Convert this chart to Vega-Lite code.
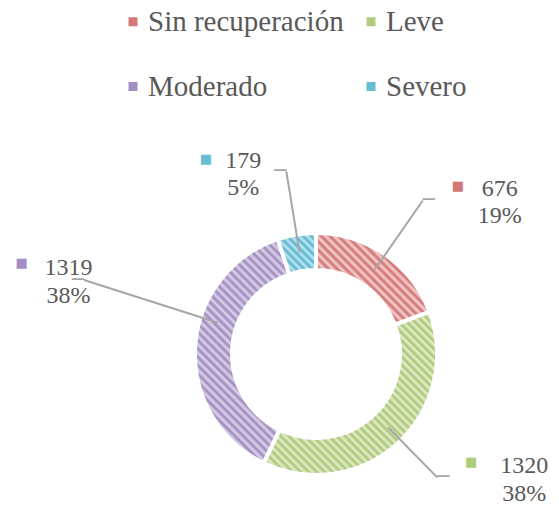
{
  "$schema": "https://vega.github.io/schema/vega-lite/v6.json",
  "width": 486,
  "height": 304,
  "autosize": "none",
  "padding": {"left": 73, "top": 202, "right": 0, "bottom": 0},
  "background": "white",
  "data": {"values": [
    {"categoria": "Sin recuperación", "pacientes": 676, "porcentaje": "19%", "orden": 1},
    {"categoria": "Leve", "pacientes": 1320, "porcentaje": "38%", "orden": 2},
    {"categoria": "Moderado", "pacientes": 1319, "porcentaje": "38%", "orden": 3},
    {"categoria": "Severo", "pacientes": 179, "porcentaje": "5%", "orden": 4}
  ]},
  "transform": [
    {"stack": "pacientes", "groupby": [], "sort": [{"field": "orden"}], "as": ["v0", "v1"]}
  ],
  "layer": [
    {
      "transform": [{"filter": {"field": "categoria", "equal": "Sin recuperación"}}],
      "mark": {"type": "arc", "outerRadius": 121, "innerRadius": 84, "stroke": "white", "strokeWidth": 4,
        "fill": {"gradient": "linear", "x1": 0, "y1": 1, "x2": 1.0932, "y2": 0.115, "stops": [
          {"offset":0,"color":"#cf6e6e"},{"offset":0.0208,"color":"#f6d2d2"},{"offset":0.0417,"color":"#cf6e6e"},{"offset":0.0625,"color":"#f6d2d2"},{"offset":0.0833,"color":"#cf6e6e"},{"offset":0.1042,"color":"#f6d2d2"},{"offset":0.125,"color":"#cf6e6e"},{"offset":0.1458,"color":"#f6d2d2"},{"offset":0.1667,"color":"#cf6e6e"},{"offset":0.1875,"color":"#f6d2d2"},{"offset":0.2083,"color":"#cf6e6e"},{"offset":0.2292,"color":"#f6d2d2"},{"offset":0.25,"color":"#cf6e6e"},{"offset":0.2708,"color":"#f6d2d2"},{"offset":0.2917,"color":"#cf6e6e"},{"offset":0.3125,"color":"#f6d2d2"},{"offset":0.3333,"color":"#cf6e6e"},{"offset":0.3542,"color":"#f6d2d2"},{"offset":0.375,"color":"#cf6e6e"},{"offset":0.3958,"color":"#f6d2d2"},{"offset":0.4167,"color":"#cf6e6e"},{"offset":0.4375,"color":"#f6d2d2"},{"offset":0.4583,"color":"#cf6e6e"},{"offset":0.4792,"color":"#f6d2d2"},{"offset":0.5,"color":"#cf6e6e"},{"offset":0.5208,"color":"#f6d2d2"},{"offset":0.5417,"color":"#cf6e6e"},{"offset":0.5625,"color":"#f6d2d2"},{"offset":0.5833,"color":"#cf6e6e"},{"offset":0.6042,"color":"#f6d2d2"},{"offset":0.625,"color":"#cf6e6e"},{"offset":0.6458,"color":"#f6d2d2"},{"offset":0.6667,"color":"#cf6e6e"},{"offset":0.6875,"color":"#f6d2d2"},{"offset":0.7083,"color":"#cf6e6e"},{"offset":0.7292,"color":"#f6d2d2"},{"offset":0.75,"color":"#cf6e6e"},{"offset":0.7708,"color":"#f6d2d2"},{"offset":0.7917,"color":"#cf6e6e"},{"offset":0.8125,"color":"#f6d2d2"},{"offset":0.8333,"color":"#cf6e6e"},{"offset":0.8542,"color":"#f6d2d2"},{"offset":0.875,"color":"#cf6e6e"},{"offset":0.8958,"color":"#f6d2d2"},{"offset":0.9167,"color":"#cf6e6e"},{"offset":0.9375,"color":"#f6d2d2"},{"offset":0.9583,"color":"#cf6e6e"},{"offset":0.9792,"color":"#f6d2d2"},{"offset":1,"color":"#cf6e6e"}
        ]}},
      "encoding": {
        "theta": {"field": "v0", "type": "quantitative", "scale": {"domain": [0, 3494], "nice": false}},
        "theta2": {"field": "v1"}
      }
    },
    {
      "transform": [{"filter": {"field": "categoria", "equal": "Leve"}}],
      "mark": {"type": "arc", "outerRadius": 121, "innerRadius": 84, "stroke": "white", "strokeWidth": 4,
        "fill": {"gradient": "linear", "x1": 0, "y1": 1, "x2": 1.0296, "y2": 0.0315, "stops": [
          {"offset":0,"color":"#a9c56f"},{"offset":0.0119,"color":"#e4eed2"},{"offset":0.0238,"color":"#a9c56f"},{"offset":0.0357,"color":"#e4eed2"},{"offset":0.0476,"color":"#a9c56f"},{"offset":0.0595,"color":"#e4eed2"},{"offset":0.0714,"color":"#a9c56f"},{"offset":0.0833,"color":"#e4eed2"},{"offset":0.0952,"color":"#a9c56f"},{"offset":0.1071,"color":"#e4eed2"},{"offset":0.119,"color":"#a9c56f"},{"offset":0.131,"color":"#e4eed2"},{"offset":0.1429,"color":"#a9c56f"},{"offset":0.1548,"color":"#e4eed2"},{"offset":0.1667,"color":"#a9c56f"},{"offset":0.1786,"color":"#e4eed2"},{"offset":0.1905,"color":"#a9c56f"},{"offset":0.2024,"color":"#e4eed2"},{"offset":0.2143,"color":"#a9c56f"},{"offset":0.2262,"color":"#e4eed2"},{"offset":0.2381,"color":"#a9c56f"},{"offset":0.25,"color":"#e4eed2"},{"offset":0.2619,"color":"#a9c56f"},{"offset":0.2738,"color":"#e4eed2"},{"offset":0.2857,"color":"#a9c56f"},{"offset":0.2976,"color":"#e4eed2"},{"offset":0.3095,"color":"#a9c56f"},{"offset":0.3214,"color":"#e4eed2"},{"offset":0.3333,"color":"#a9c56f"},{"offset":0.3452,"color":"#e4eed2"},{"offset":0.3571,"color":"#a9c56f"},{"offset":0.369,"color":"#e4eed2"},{"offset":0.381,"color":"#a9c56f"},{"offset":0.3929,"color":"#e4eed2"},{"offset":0.4048,"color":"#a9c56f"},{"offset":0.4167,"color":"#e4eed2"},{"offset":0.4286,"color":"#a9c56f"},{"offset":0.4405,"color":"#e4eed2"},{"offset":0.4524,"color":"#a9c56f"},{"offset":0.4643,"color":"#e4eed2"},{"offset":0.4762,"color":"#a9c56f"},{"offset":0.4881,"color":"#e4eed2"},{"offset":0.5,"color":"#a9c56f"},{"offset":0.5119,"color":"#e4eed2"},{"offset":0.5238,"color":"#a9c56f"},{"offset":0.5357,"color":"#e4eed2"},{"offset":0.5476,"color":"#a9c56f"},{"offset":0.5595,"color":"#e4eed2"},{"offset":0.5714,"color":"#a9c56f"},{"offset":0.5833,"color":"#e4eed2"},{"offset":0.5952,"color":"#a9c56f"},{"offset":0.6071,"color":"#e4eed2"},{"offset":0.619,"color":"#a9c56f"},{"offset":0.631,"color":"#e4eed2"},{"offset":0.6429,"color":"#a9c56f"},{"offset":0.6548,"color":"#e4eed2"},{"offset":0.6667,"color":"#a9c56f"},{"offset":0.6786,"color":"#e4eed2"},{"offset":0.6905,"color":"#a9c56f"},{"offset":0.7024,"color":"#e4eed2"},{"offset":0.7143,"color":"#a9c56f"},{"offset":0.7262,"color":"#e4eed2"},{"offset":0.7381,"color":"#a9c56f"},{"offset":0.75,"color":"#e4eed2"},{"offset":0.7619,"color":"#a9c56f"},{"offset":0.7738,"color":"#e4eed2"},{"offset":0.7857,"color":"#a9c56f"},{"offset":0.7976,"color":"#e4eed2"},{"offset":0.8095,"color":"#a9c56f"},{"offset":0.8214,"color":"#e4eed2"},{"offset":0.8333,"color":"#a9c56f"},{"offset":0.8452,"color":"#e4eed2"},{"offset":0.8571,"color":"#a9c56f"},{"offset":0.869,"color":"#e4eed2"},{"offset":0.881,"color":"#a9c56f"},{"offset":0.8929,"color":"#e4eed2"},{"offset":0.9048,"color":"#a9c56f"},{"offset":0.9167,"color":"#e4eed2"},{"offset":0.9286,"color":"#a9c56f"},{"offset":0.9405,"color":"#e4eed2"},{"offset":0.9524,"color":"#a9c56f"},{"offset":0.9643,"color":"#e4eed2"},{"offset":0.9762,"color":"#a9c56f"},{"offset":0.9881,"color":"#e4eed2"},{"offset":1,"color":"#a9c56f"}
        ]}},
      "encoding": {
        "theta": {"field": "v0", "type": "quantitative", "scale": {"domain": [0, 3494], "nice": false}},
        "theta2": {"field": "v1"}
      }
    },
    {
      "transform": [{"filter": {"field": "categoria", "equal": "Moderado"}}],
      "mark": {"type": "arc", "outerRadius": 121, "innerRadius": 84, "stroke": "white", "strokeWidth": 4,
        "fill": {"gradient": "linear", "x1": 0, "y1": 1, "x2": 0.5089, "y2": -0.207, "stops": [
          {"offset":0,"color":"#9d88be"},{"offset":0.0132,"color":"#ddd5ea"},{"offset":0.0263,"color":"#9d88be"},{"offset":0.0395,"color":"#ddd5ea"},{"offset":0.0526,"color":"#9d88be"},{"offset":0.0658,"color":"#ddd5ea"},{"offset":0.0789,"color":"#9d88be"},{"offset":0.0921,"color":"#ddd5ea"},{"offset":0.1053,"color":"#9d88be"},{"offset":0.1184,"color":"#ddd5ea"},{"offset":0.1316,"color":"#9d88be"},{"offset":0.1447,"color":"#ddd5ea"},{"offset":0.1579,"color":"#9d88be"},{"offset":0.1711,"color":"#ddd5ea"},{"offset":0.1842,"color":"#9d88be"},{"offset":0.1974,"color":"#ddd5ea"},{"offset":0.2105,"color":"#9d88be"},{"offset":0.2237,"color":"#ddd5ea"},{"offset":0.2368,"color":"#9d88be"},{"offset":0.25,"color":"#ddd5ea"},{"offset":0.2632,"color":"#9d88be"},{"offset":0.2763,"color":"#ddd5ea"},{"offset":0.2895,"color":"#9d88be"},{"offset":0.3026,"color":"#ddd5ea"},{"offset":0.3158,"color":"#9d88be"},{"offset":0.3289,"color":"#ddd5ea"},{"offset":0.3421,"color":"#9d88be"},{"offset":0.3553,"color":"#ddd5ea"},{"offset":0.3684,"color":"#9d88be"},{"offset":0.3816,"color":"#ddd5ea"},{"offset":0.3947,"color":"#9d88be"},{"offset":0.4079,"color":"#ddd5ea"},{"offset":0.4211,"color":"#9d88be"},{"offset":0.4342,"color":"#ddd5ea"},{"offset":0.4474,"color":"#9d88be"},{"offset":0.4605,"color":"#ddd5ea"},{"offset":0.4737,"color":"#9d88be"},{"offset":0.4868,"color":"#ddd5ea"},{"offset":0.5,"color":"#9d88be"},{"offset":0.5132,"color":"#ddd5ea"},{"offset":0.5263,"color":"#9d88be"},{"offset":0.5395,"color":"#ddd5ea"},{"offset":0.5526,"color":"#9d88be"},{"offset":0.5658,"color":"#ddd5ea"},{"offset":0.5789,"color":"#9d88be"},{"offset":0.5921,"color":"#ddd5ea"},{"offset":0.6053,"color":"#9d88be"},{"offset":0.6184,"color":"#ddd5ea"},{"offset":0.6316,"color":"#9d88be"},{"offset":0.6447,"color":"#ddd5ea"},{"offset":0.6579,"color":"#9d88be"},{"offset":0.6711,"color":"#ddd5ea"},{"offset":0.6842,"color":"#9d88be"},{"offset":0.6974,"color":"#ddd5ea"},{"offset":0.7105,"color":"#9d88be"},{"offset":0.7237,"color":"#ddd5ea"},{"offset":0.7368,"color":"#9d88be"},{"offset":0.75,"color":"#ddd5ea"},{"offset":0.7632,"color":"#9d88be"},{"offset":0.7763,"color":"#ddd5ea"},{"offset":0.7895,"color":"#9d88be"},{"offset":0.8026,"color":"#ddd5ea"},{"offset":0.8158,"color":"#9d88be"},{"offset":0.8289,"color":"#ddd5ea"},{"offset":0.8421,"color":"#9d88be"},{"offset":0.8553,"color":"#ddd5ea"},{"offset":0.8684,"color":"#9d88be"},{"offset":0.8816,"color":"#ddd5ea"},{"offset":0.8947,"color":"#9d88be"},{"offset":0.9079,"color":"#ddd5ea"},{"offset":0.9211,"color":"#9d88be"},{"offset":0.9342,"color":"#ddd5ea"},{"offset":0.9474,"color":"#9d88be"},{"offset":0.9605,"color":"#ddd5ea"},{"offset":0.9737,"color":"#9d88be"},{"offset":0.9868,"color":"#ddd5ea"},{"offset":1,"color":"#9d88be"}
        ]}},
      "encoding": {
        "theta": {"field": "v0", "type": "quantitative", "scale": {"domain": [0, 3494], "nice": false}},
        "theta2": {"field": "v1"}
      }
    },
    {
      "transform": [{"filter": {"field": "categoria", "equal": "Severo"}}],
      "mark": {"type": "arc", "outerRadius": 121, "innerRadius": 84, "stroke": "white", "strokeWidth": 4,
        "fill": {"gradient": "linear", "x1": 0, "y1": 1, "x2": 0.961, "y2": -0.036, "stops": [
          {"offset":0,"color":"#56b4ce"},{"offset":0.05,"color":"#c2e7f1"},{"offset":0.1,"color":"#56b4ce"},{"offset":0.15,"color":"#c2e7f1"},{"offset":0.2,"color":"#56b4ce"},{"offset":0.25,"color":"#c2e7f1"},{"offset":0.3,"color":"#56b4ce"},{"offset":0.35,"color":"#c2e7f1"},{"offset":0.4,"color":"#56b4ce"},{"offset":0.45,"color":"#c2e7f1"},{"offset":0.5,"color":"#56b4ce"},{"offset":0.55,"color":"#c2e7f1"},{"offset":0.6,"color":"#56b4ce"},{"offset":0.65,"color":"#c2e7f1"},{"offset":0.7,"color":"#56b4ce"},{"offset":0.75,"color":"#c2e7f1"},{"offset":0.8,"color":"#56b4ce"},{"offset":0.85,"color":"#c2e7f1"},{"offset":0.9,"color":"#56b4ce"},{"offset":0.95,"color":"#c2e7f1"},{"offset":1,"color":"#56b4ce"}
        ]}},
      "encoding": {
        "theta": {"field": "v0", "type": "quantitative", "scale": {"domain": [0, 3494], "nice": false}},
        "theta2": {"field": "v1"}
      }
    },
    {
      "transform": [
        {"filter": {"field": "categoria", "equal": "Sin recuperación"}},
        {"fold": ["v0", "v1"], "as": ["borde", "angulo"]},
        {"aggregate": [{"op": "mean", "field": "angulo", "as": "mid"}], "groupby": ["categoria", "pacientes", "porcentaje"]}
      ],
      "layer": [
        {"mark": {"type": "arc", "innerRadius": 103, "outerRadius": 187, "filled": false, "color": "#a6a6a6", "strokeWidth": 2},
         "encoding": {"theta": {"field": "mid", "type": "quantitative", "scale": {"domain": [0, 3494], "nice": false}}, "theta2": {"field": "mid"}}},
        {"mark": {"type": "text", "text": "─", "font": "DejaVu Sans Mono", "fontSize": 20, "color": "#a6a6a6", "align": "left", "baseline": "middle", "radius": 187},
         "encoding": {"theta": {"field": "mid", "type": "quantitative", "stack": false, "scale": {"domain": [0, 3494], "nice": false}}}},
        {"mark": {"type": "text", "text": "■", "font": "DejaVu Sans", "fontSize": 13, "color": "#d57676", "align": "center", "baseline": "middle", "radius": 187, "dx": 35, "dy": -14.5},
         "encoding": {"theta": {"field": "mid", "type": "quantitative", "stack": false, "scale": {"domain": [0, 3494], "nice": false}}}},
        {"mark": {"type": "text", "font": "Liberation Serif", "fontSize": 24, "color": "#595959", "align": "center", "baseline": "alphabetic", "radius": 187, "dx": 77, "dy": -4.5},
         "encoding": {"theta": {"field": "mid", "type": "quantitative", "stack": false, "scale": {"domain": [0, 3494], "nice": false}}, "text": {"field": "pacientes", "type": "nominal"}}},
        {"mark": {"type": "text", "font": "Liberation Serif", "fontSize": 24, "color": "#595959", "align": "center", "baseline": "alphabetic", "radius": 187, "dx": 77, "dy": 23},
         "encoding": {"theta": {"field": "mid", "type": "quantitative", "stack": false, "scale": {"domain": [0, 3494], "nice": false}}, "text": {"field": "porcentaje", "type": "nominal"}}}
      ]
    },
    {
      "transform": [
        {"filter": {"field": "categoria", "equal": "Leve"}},
        {"fold": ["v0", "v1"], "as": ["borde", "angulo"]},
        {"aggregate": [{"op": "mean", "field": "angulo", "as": "mid"}], "groupby": ["categoria", "pacientes", "porcentaje"]}
      ],
      "layer": [
        {"mark": {"type": "arc", "innerRadius": 103, "outerRadius": 173, "filled": false, "color": "#a6a6a6", "strokeWidth": 2, "thetaOffset": -0.0375, "theta2Offset": -0.0375},
         "encoding": {"theta": {"field": "mid", "type": "quantitative", "scale": {"domain": [0, 3494], "nice": false}}, "theta2": {"field": "mid"}}},
        {"mark": {"type": "text", "text": "─", "font": "DejaVu Sans Mono", "fontSize": 20, "color": "#a6a6a6", "align": "left", "baseline": "middle", "radius": 173, "thetaOffset": -0.0375},
         "encoding": {"theta": {"field": "mid", "type": "quantitative", "stack": false, "scale": {"domain": [0, 3494], "nice": false}}}},
        {"mark": {"type": "text", "text": "■", "font": "DejaVu Sans", "fontSize": 13, "color": "#afcb7c", "align": "center", "baseline": "middle", "radius": 173, "thetaOffset": -0.0375, "dx": 34, "dy": -15.4},
         "encoding": {"theta": {"field": "mid", "type": "quantitative", "stack": false, "scale": {"domain": [0, 3494], "nice": false}}}},
        {"mark": {"type": "text", "font": "Liberation Serif", "fontSize": 24, "color": "#595959", "align": "center", "baseline": "alphabetic", "radius": 173, "thetaOffset": -0.0375, "dx": 87, "dy": -4.4},
         "encoding": {"theta": {"field": "mid", "type": "quantitative", "stack": false, "scale": {"domain": [0, 3494], "nice": false}}, "text": {"field": "pacientes", "type": "nominal"}}},
        {"mark": {"type": "text", "font": "Liberation Serif", "fontSize": 24, "color": "#595959", "align": "center", "baseline": "alphabetic", "radius": 173, "thetaOffset": -0.0375, "dx": 87, "dy": 23.6},
         "encoding": {"theta": {"field": "mid", "type": "quantitative", "stack": false, "scale": {"domain": [0, 3494], "nice": false}}, "text": {"field": "porcentaje", "type": "nominal"}}}
      ]
    },
    {
      "transform": [
        {"filter": {"field": "categoria", "equal": "Moderado"}},
        {"fold": ["v0", "v1"], "as": ["borde", "angulo"]},
        {"aggregate": [{"op": "mean", "field": "angulo", "as": "mid"}], "groupby": ["categoria", "pacientes", "porcentaje"]}
      ],
      "layer": [
        {"mark": {"type": "arc", "innerRadius": 103, "outerRadius": 243.5, "filled": false, "color": "#a6a6a6", "strokeWidth": 2, "thetaOffset": 0.2459, "theta2Offset": 0.2459},
         "encoding": {"theta": {"field": "mid", "type": "quantitative", "scale": {"domain": [0, 3494], "nice": false}}, "theta2": {"field": "mid"}}},
        {"mark": {"type": "text", "text": "─", "font": "DejaVu Sans Mono", "fontSize": 20, "color": "#a6a6a6", "align": "right", "baseline": "middle", "radius": 243.5, "thetaOffset": 0.2459},
         "encoding": {"theta": {"field": "mid", "type": "quantitative", "stack": false, "scale": {"domain": [0, 3494], "nice": false}}}},
        {"mark": {"type": "text", "text": "■", "font": "DejaVu Sans", "fontSize": 13, "color": "#a28ec3", "align": "center", "baseline": "middle", "radius": 243.5, "thetaOffset": 0.2459, "dx": -62.5, "dy": -17},
         "encoding": {"theta": {"field": "mid", "type": "quantitative", "stack": false, "scale": {"domain": [0, 3494], "nice": false}}}},
        {"mark": {"type": "text", "font": "Liberation Serif", "fontSize": 24, "color": "#595959", "align": "center", "baseline": "alphabetic", "radius": 243.5, "thetaOffset": 0.2459, "dx": -15.5, "dy": -5},
         "encoding": {"theta": {"field": "mid", "type": "quantitative", "stack": false, "scale": {"domain": [0, 3494], "nice": false}}, "text": {"field": "pacientes", "type": "nominal"}}},
        {"mark": {"type": "text", "font": "Liberation Serif", "fontSize": 24, "color": "#595959", "align": "center", "baseline": "alphabetic", "radius": 243.5, "thetaOffset": 0.2459, "dx": -15.5, "dy": 23},
         "encoding": {"theta": {"field": "mid", "type": "quantitative", "stack": false, "scale": {"domain": [0, 3494], "nice": false}}, "text": {"field": "porcentaje", "type": "nominal"}}}
      ]
    },
    {
      "transform": [
        {"filter": {"field": "categoria", "equal": "Severo"}},
        {"fold": ["v0", "v1"], "as": ["borde", "angulo"]},
        {"aggregate": [{"op": "mean", "field": "angulo", "as": "mid"}], "groupby": ["categoria", "pacientes", "porcentaje"]}
      ],
      "layer": [
        {"mark": {"type": "arc", "innerRadius": 103, "outerRadius": 185, "filled": false, "color": "#a6a6a6", "strokeWidth": 2},
         "encoding": {"theta": {"field": "mid", "type": "quantitative", "scale": {"domain": [0, 3494], "nice": false}}, "theta2": {"field": "mid"}}},
        {"mark": {"type": "text", "text": "─", "font": "DejaVu Sans Mono", "fontSize": 20, "color": "#a6a6a6", "align": "right", "baseline": "middle", "radius": 185},
         "encoding": {"theta": {"field": "mid", "type": "quantitative", "stack": false, "scale": {"domain": [0, 3494], "nice": false}}}},
        {"mark": {"type": "text", "text": "■", "font": "DejaVu Sans", "fontSize": 13, "color": "#67bdd4", "align": "center", "baseline": "middle", "radius": 185, "dx": -80.4, "dy": -12.4},
         "encoding": {"theta": {"field": "mid", "type": "quantitative", "stack": false, "scale": {"domain": [0, 3494], "nice": false}}}},
        {"mark": {"type": "text", "font": "Liberation Serif", "fontSize": 24, "color": "#595959", "align": "center", "baseline": "alphabetic", "radius": 185, "dx": -43, "dy": -3.4},
         "encoding": {"theta": {"field": "mid", "type": "quantitative", "stack": false, "scale": {"domain": [0, 3494], "nice": false}}, "text": {"field": "pacientes", "type": "nominal"}}},
        {"mark": {"type": "text", "font": "Liberation Serif", "fontSize": 24, "color": "#595959", "align": "center", "baseline": "alphabetic", "radius": 185, "dx": -43, "dy": 23.6},
         "encoding": {"theta": {"field": "mid", "type": "quantitative", "stack": false, "scale": {"domain": [0, 3494], "nice": false}}, "text": {"field": "porcentaje", "type": "nominal"}}}
      ]
    },
    {
      "mark": {"type": "text", "text": ""},
      "encoding": {
        "color": {
          "field": "categoria", "type": "nominal",
          "scale": {"domain": ["Sin recuperación", "Leve", "Moderado", "Severo"], "range": ["#d57676", "#afcb7c", "#a28ec3", "#67bdd4"]},
          "legend": {
            "title": null, "orient": "none", "legendX": 45.5, "legendY": -195, "columns": 2, "direction": "horizontal",
            "symbolType": "square", "symbolSize": 81, "symbolStrokeWidth": 0, "symbolOpacity": 1,
            "labelFont": "Liberation Serif", "labelFontSize": 29, "labelColor": "#595959", "labelLimit": 400,
            "labelOffset": 0.5, "columnPadding": 12, "rowPadding": 35
          }
        }
      }
    }
  ]
}
